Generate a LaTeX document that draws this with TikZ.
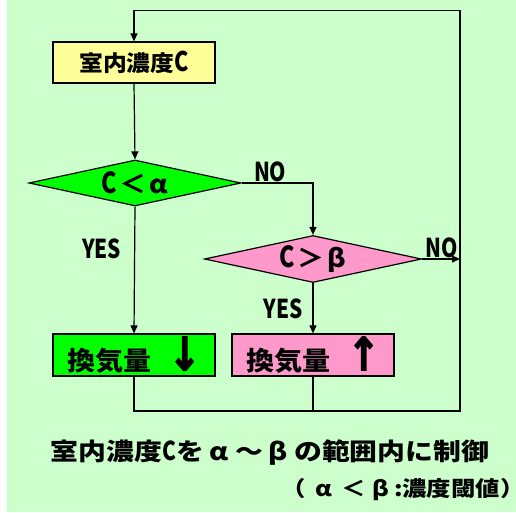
\documentclass[tikz,border=0pt]{standalone}
\usepackage{fontspec}
\usetikzlibrary{shapes.geometric,arrows.meta}
\newfontfamily\jpfont{Noto Sans CJK JP}[UprightFont={* Black},FakeStretch=1.08]
\newfontfamily\jpnarrow{Noto Sans CJK JP}[UprightFont={* Black},FakeStretch=0.8]
\newfontfamily\jpwide{Noto Sans CJK JP}[UprightFont={* Black},FakeStretch=1.16]
\newfontfamily\arrowfont{DejaVu Sans}[UprightFont={* Bold},FakeStretch=0.85,FakeBold=2.5]
\newcommand{\Cn}[1][27]{{\jpnarrow\fontsize{#1}{#1}\selectfont C}}
\newcommand{\Arr}[1]{{\arrowfont\fontsize{46}{46}\selectfont #1}}
\definecolor{bgc}{HTML}{CCFFCC}
\definecolor{ylw}{HTML}{FFFF99}
\definecolor{grn}{HTML}{00FF00}
\definecolor{pnk}{HTML}{FF99CC}
\begin{document}
\begin{tikzpicture}[x=1pt, y=-1pt, line width=1.2pt, line join=miter, >={Triangle[length=8pt,width=7pt]},
	box/.style={draw, minimum width=162pt, minimum height=41pt, inner sep=0pt, font=\jpfont},
	dia/.style={draw, diamond, aspect=4.6, minimum width=212pt, minimum height=46pt, inner sep=0pt, font=\jpfont},
	lbl/.style={font=\jpnarrow\fontsize{26}{26}\selectfont, inner sep=1pt}]
	\useasboundingbox (0,0) rectangle (516,513);
	\fill[bgc] (7,0) rectangle (516,512);
	% boxes and decisions
	\node[box, fill=ylw] (conc) at (134,62.5) {\fontsize{22}{22}\selectfont 室内濃度\Cn};
	\node[dia, fill=grn] (dec1) at (135,183) {\fontsize{25}{25}\selectfont \Cn[29]\hspace{3pt}＜\hspace{3pt}α};
	\node[dia, fill=pnk, minimum width=217pt, minimum height=47pt] (dec2) at (313,259) {\fontsize{25}{25}\selectfont \Cn[29]\hspace{3pt}＞\hspace{3pt}β};
	\node[box, fill=grn, minimum height=42pt] (down) at (134,355) {\fontsize{26}{26}\selectfont 換気量\hspace{17pt}\Arr{↓}};
	\node[box, fill=pnk, minimum height=42pt] (up) at (313,355) {\fontsize{26}{26}\selectfont 換気量\hspace{17pt}\Arr{↑}};
	\coordinate (loopBR) at (460,411);
	\coordinate (loopTR) at (460,10.5);
	% connectors
	\draw[->] (conc.south) -- (dec1.north);
	\draw[->] (dec1.south) -- (down.north) node[lbl, left=12pt, pos=0.33]{YES};
	\draw[->] (dec1.east) -| (dec2.north) node[lbl, above, pos=0.2]{NO};
	\draw[->] (dec2.south) -- (up.north) node[lbl, left=9pt, pos=0.52]{YES};
	\draw[->] (dec2.east) -- (dec2.east -| loopTR) node[lbl, above left, xshift=-1pt]{NO};
	\draw (up.south) -- (up.south |- loopBR);
	\draw[->] (down.south) |- (loopBR) -- (loopTR) -| (conc.north);
	% caption
	\node[font=\jpwide\fontsize{24}{24}\selectfont] (cap) at (270,453) {室内濃度\Cn[26]を\hspace{6pt}α\hspace{6pt}～\hspace{6pt}β\hspace{6pt}の範囲内に制御};
	\node[font=\jpwide\fontsize{21}{21}\selectfont, anchor=east, inner sep=0pt] (thr) at (514,490) {（\hspace{9pt}α\hspace{10pt}＜\hspace{6pt}β\hspace{5pt}:濃度閾値）\kern-11pt};
\end{tikzpicture}
\end{document}
